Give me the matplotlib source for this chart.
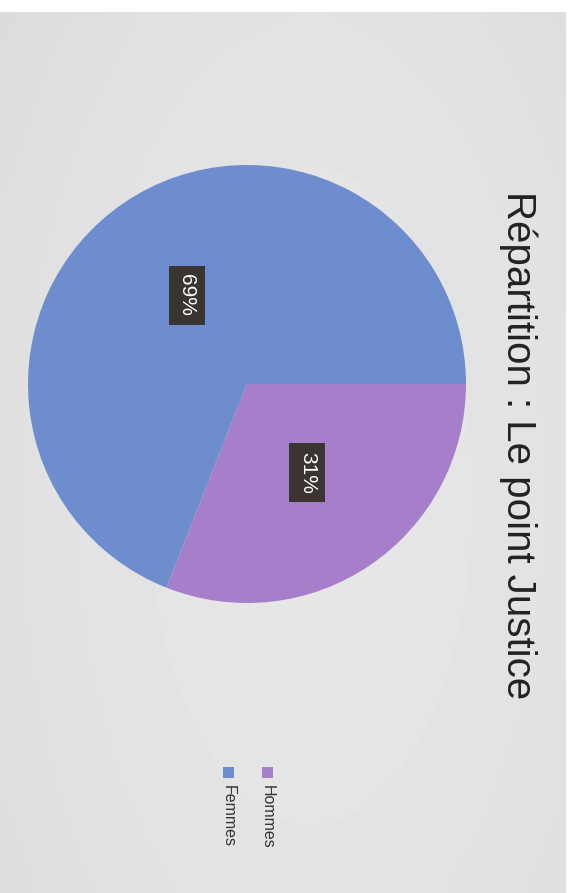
import numpy as np
import matplotlib.pyplot as plt
from matplotlib.patches import Rectangle

# data
labels = ["Hommes", "Femmes"]
values = [31, 69]
colors = ["#a77ec9", "#6e8dce"]
title = "Répartition : Le point Justice"

W, H = 574, 893
DPI = 100

plt.rcParams["font.family"] = ["Liberation Sans", "DejaVu Sans"]

fig = plt.figure(figsize=(W / DPI, H / DPI), dpi=DPI)
fig.patch.set_facecolor("white")

# scanned page background (gray sheet, lighter towards the middle)
bg = fig.add_axes([0, 0, 1, 1])
bg.set_xlim(0, W)
bg.set_ylim(H, 0)
bg.axis("off")
yy, xx = np.mgrid[0:1:60j, 0:1:40j]
shade = 1 - 0.5 * ((xx - 0.55) ** 2 + 0.6 * (yy - 0.55) ** 2)
bg.imshow(shade, extent=(0, 566, H, 12), cmap="gray", vmin=-4.5, vmax=1.6,
          aspect="auto", interpolation="bicubic", zorder=0)
bg.set_xlim(0, W)
bg.set_ylim(H, 0)

# pie, rotated view: starts at right, clockwise
cx, cy, r = 247, 384, 219
ax = fig.add_axes([(cx - r) / W, 1 - (cy + r) / H, 2 * r / W, 2 * r / H])
wedges, texts, autotexts = ax.pie(
    values,
    colors=colors,
    startangle=0,
    counterclock=False,
    autopct="%d%%",
    pctdistance=0.49,
    wedgeprops=dict(linewidth=0),
    textprops=dict(color="white", fontsize=15),
)
ax.set_xlim(-1, 1)
ax.set_ylim(-1, 1)
for t in autotexts:
    t.set_rotation(-90)
    t.set_bbox(dict(facecolor="#3a3531", edgecolor="none", boxstyle="square,pad=0.4"))

# title rotated
fig.text(518 / W, 1 - 445 / H, title, rotation=-90, ha="center", va="center",
         fontsize=29, color="#222222")

# legend, drawn by hand with rotated text
leg_x = [267, 228]
for lbl, col, x in zip(labels, colors, leg_x):
    bg.add_patch(Rectangle((x - 5.5, 767), 11, 11, facecolor=col, edgecolor="none"))
    bg.text(x, 785, lbl, rotation=-90, ha="center", va="top", fontsize=11.5, color="#333333")

fig.savefig("out.png", dpi=DPI)
